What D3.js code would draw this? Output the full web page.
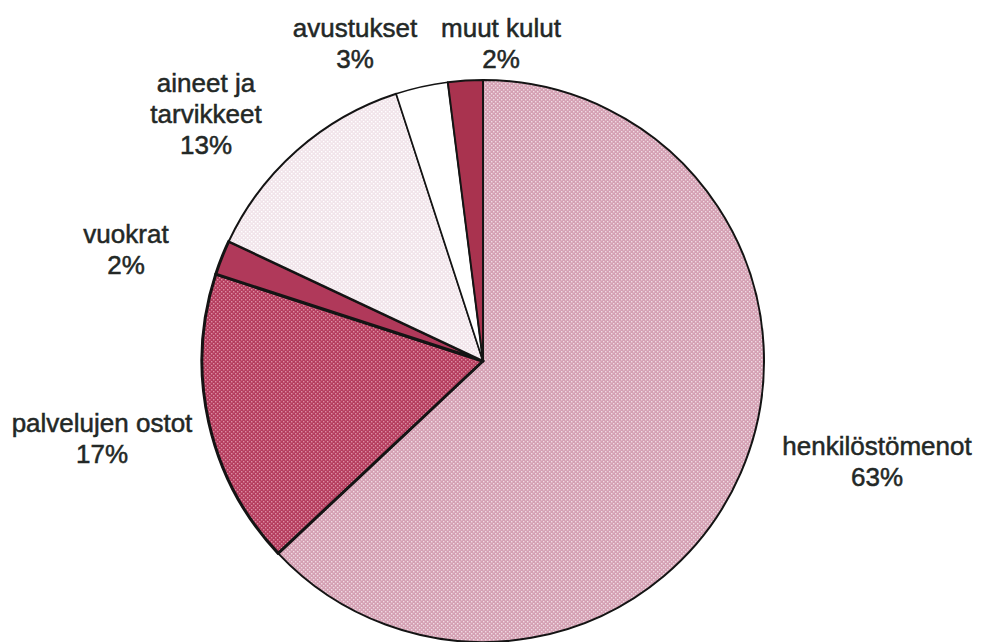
<!DOCTYPE html>
<html>
<head>
<meta charset="utf-8">
<script src="https://cdn.jsdelivr.net/npm/d3@7"></script>
<style>
  html, body { margin: 0; padding: 0; background: #fff; }
  svg { display: block; }
</style>
</head>
<body>
<svg id="chart" width="981" height="642"></svg>
<script>
const categories = ["henkilöstömenot", "palvelujen ostot", "vuokrat", "aineet ja tarvikkeet", "avustukset", "muut kulut"];
const values = [63, 17, 2, 13, 3, 2];
const labelLines = [["henkilöstömenot"], ["palvelujen ostot"], ["vuokrat"], ["aineet ja", "tarvikkeet"], ["avustukset"], ["muut kulut"]];
const baseColors = ["#d4a0b3", "#b53d5e", "#b0395a", "#f1e4ea", "#ffffff", "#a9334f"];
const dotColors = ["#f0dbe3", "#dc8ea3", null, "#ffffff", null, null];
const strokeWidths = [2, 3, 3, 2, 1.5, 2];

const svg = d3.select("#chart");
const cx = 483, cy = 361, r = 281;

const defs = svg.append("defs");
baseColors.forEach((c, i) => {
  const p = defs.append("pattern").attr("id", "pat" + i)
    .attr("patternUnits", "userSpaceOnUse").attr("width", 4).attr("height", 4);
  p.append("rect").attr("width", 4).attr("height", 4).attr("fill", c);
  if (dotColors[i]) {
    p.append("rect").attr("x", 0).attr("y", 0).attr("width", 1.4).attr("height", 1.4).attr("fill", dotColors[i]);
    p.append("rect").attr("x", 2).attr("y", 2).attr("width", 1.4).attr("height", 1.4).attr("fill", dotColors[i]);
  }
});

const pie = d3.pie().sort(null).value(d => d)(values);
const arc = d3.arc().innerRadius(0).outerRadius(r);

const g = svg.append("g").attr("transform", `translate(${cx},${cy})`);
g.selectAll("path").data(pie).join("path")
  .attr("d", arc)
  .attr("fill", (d, i) => `url(#pat${i})`)
  .attr("stroke", "#141414")
  .attr("stroke-width", (d, i) => strokeWidths[i])
  .attr("stroke-linejoin", "round");

// label anchor: center x, baseline of first line
const labelPos = [[877, 455], [102, 432], [126, 243], [206, 92], [355, 37], [501, 37]];
const lineH = 31;

labelLines.forEach((lines, i) => {
  const [x, y] = labelPos[i];
  const t = svg.append("text")
    .attr("x", x).attr("y", y)
    .attr("text-anchor", "middle")
    .attr("font-family", "Liberation Sans, Arial, sans-serif")
    .attr("font-size", 26)
    .attr("fill", "#232826")
    .attr("stroke", "#232826")
    .attr("stroke-width", 0.5);
  const all = lines.concat([values[i] + "%"]);
  all.forEach((s, k) => {
    t.append("tspan").attr("x", x).attr("y", y + k * lineH).text(s);
  });
});
</script>
</body>
</html>
